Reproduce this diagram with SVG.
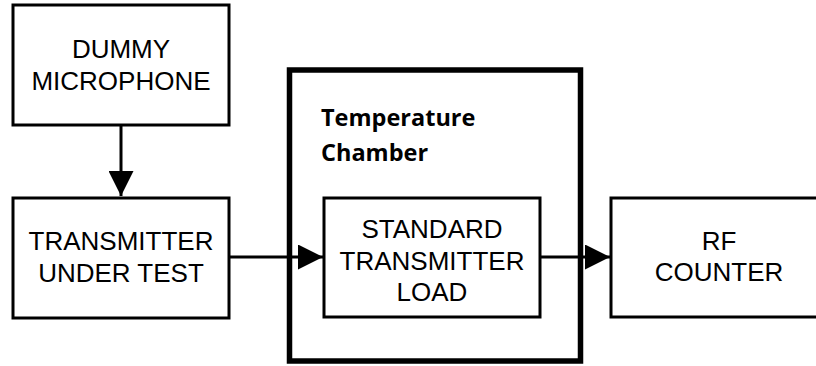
<svg xmlns="http://www.w3.org/2000/svg" width="816" height="366" viewBox="0 0 816 366">
<style>
.box{fill:#fff;stroke:#000;stroke-width:3}
.ch{fill:#fff;stroke:#000;stroke-width:5.5}
.t{font-family:"Liberation Sans",Arial,sans-serif;font-size:26px;fill:#000;text-anchor:middle}
.b{font-family:"Open Sans","Liberation Sans",sans-serif;font-size:23.5px;font-weight:bold;fill:#000}
.ln{stroke:#000;stroke-width:3;fill:none}
</style>
<defs>
<marker id="ah" viewBox="0 0 10 10" refX="10" refY="5" markerWidth="25" markerHeight="25" markerUnits="userSpaceOnUse" orient="auto">
<path d="M0,0 L10,5 L0,10 Z" fill="#000"/>
</marker>
</defs>
<g id="chamber">
<rect class="ch" x="289.5" y="70" width="291" height="291"/>
<text class="b" x="321" y="126">Temperature</text>
<text class="b" x="321" y="161">Chamber</text>
</g>
<g id="mic">
<rect class="box" x="13" y="5" width="216" height="120"/>
<text class="t" x="121" y="58">DUMMY</text>
<text class="t" x="121" y="90">MICROPHONE</text>
</g>
<g id="tut">
<rect class="box" x="13" y="198" width="216" height="120"/>
<text class="t" x="121" y="250">TRANSMITTER</text>
<text class="t" x="121" y="282">UNDER TEST</text>
</g>
<g id="load">
<rect class="box" x="324" y="198" width="216" height="119"/>
<text class="t" x="432" y="238">STANDARD</text>
<text class="t" x="432" y="270">TRANSMITTER</text>
<text class="t" x="432" y="301">LOAD</text>
</g>
<g id="rf">
<rect class="box" x="611" y="198" width="220" height="119"/>
<text class="t" x="719" y="250">RF</text>
<text class="t" x="719" y="281">COUNTER</text>
</g>
<g id="connectors">
<line class="ln" x1="121" y1="125" x2="121" y2="196" marker-end="url(#ah)"/>
<line class="ln" x1="229" y1="257" x2="323" y2="257" marker-end="url(#ah)"/>
<line class="ln" x1="540" y1="257" x2="610" y2="257" marker-end="url(#ah)"/>
</g>
</svg>
